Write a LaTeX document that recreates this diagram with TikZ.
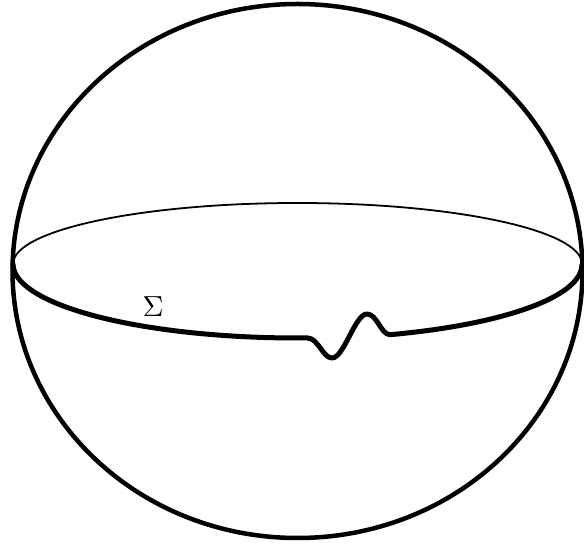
\documentclass[tikz,border=0pt]{standalone}
\begin{document}
\begin{tikzpicture}[x=1pt,y=1pt,
  sphere/.style={line width=4.5pt},
  frontline/.style={line width=5pt,line join=round,line cap=round},
  backline/.style={line width=1.8pt}]
\useasboundingbox (0,0) rectangle (584,546);
% sphere outline
\draw[sphere] (297.5,275) ellipse[x radius=285,y radius=267];
% back half of the equator
\draw[backline] (13,282) arc[start angle=180,end angle=0,x radius=284.5,y radius=61];
% front half of the equator with the wiggle
\draw[frontline] (13,282) arc[start angle=180,end angle=272,x radius=284.5,y radius=74]
  .. controls (318,208) and (323,188) .. (332,188)
  .. controls (344,188) and (355,232) .. (367,232)
  .. controls (377,232) and (381,211.3) .. (390,211.3)
  arc[start angle=289,end angle=360,x radius=284.5,y radius=74];
\node[scale=2.9] (sigma) at (153,239) {$\Sigma$};
\end{tikzpicture}
\end{document}
